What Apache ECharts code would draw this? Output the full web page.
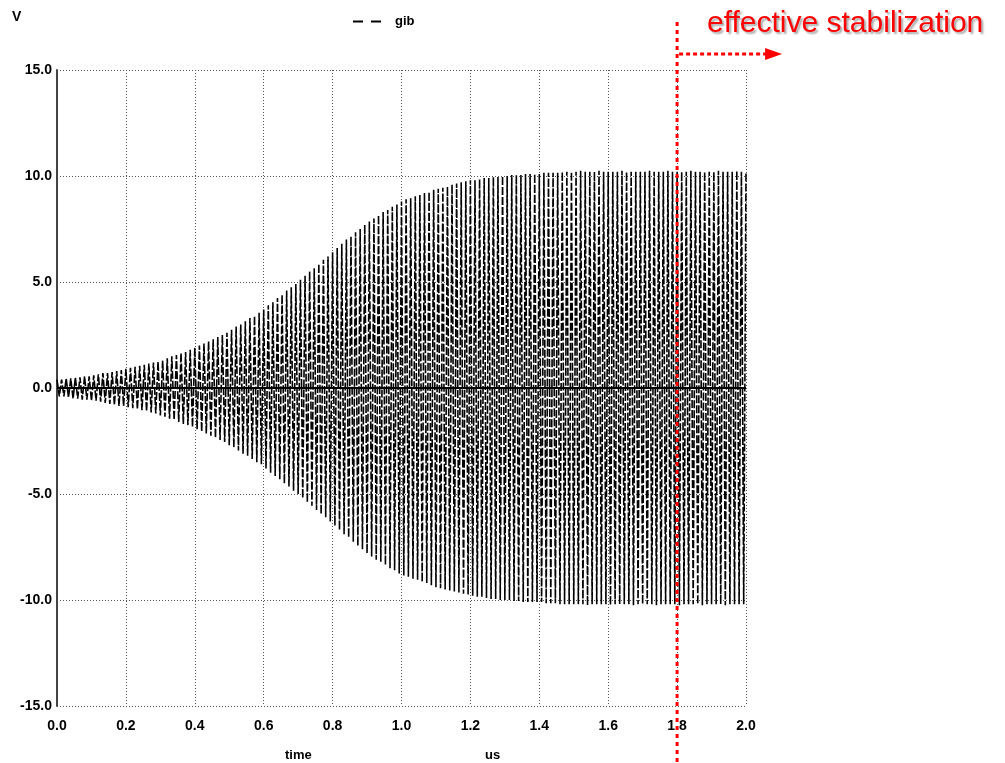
<!DOCTYPE html>
<html><head><meta charset="utf-8">
<script src="https://cdn.jsdelivr.net/npm/echarts@6/dist/echarts.min.js"></script>
<style>html,body{margin:0;padding:0;background:#fff}#c{width:1005px;height:763px}</style>
</head><body><div id="c"></div>
<script>
// ---- data ----
const seriesName = 'gib';
const xTicks = ['0.0','0.2','0.4','0.6','0.8','1.0','1.2','1.4','1.6','1.8','2.0'];
const yTicks = ['-15.0','-10.0','-5.0','0.0','5.0','10.0','15.0'];
const halfPeriod = 2 / 300;          // sample spacing of the peaks (us)
const peakValues = [
 0.4,-0.4,0.4,-0.4,0.45,-0.45,0.45,-0.5,0.5,-0.5,0.5,-0.55,0.55,-0.55,0.55,
 -0.6,0.6,-0.6,0.65,-0.65,0.7,-0.7,0.7,-0.75,0.75,-0.8,0.8,-0.85,0.85,-0.85,
 0.9,-0.9,0.95,-0.95,1.0,-1.0,1.05,-1.05,1.1,-1.1,1.15,-1.15,1.2,-1.2,1.25,
 -1.3,1.3,-1.35,1.4,-1.45,1.5,-1.5,1.55,-1.6,1.65,-1.7,1.7,-1.75,1.8,-1.85,
 1.9,-1.95,2.0,-2.05,2.1,-2.15,2.2,-2.25,2.3,-2.35,2.4,-2.45,2.5,-2.55,2.6,
 -2.7,2.75,-2.8,2.9,-2.95,3.0,-3.1,3.15,-3.2,3.3,-3.35,3.4,-3.5,3.55,-3.6,
 3.7,-3.8,3.9,-4.0,4.05,-4.15,4.25,-4.3,4.4,-4.5,4.6,-4.65,4.75,-4.85,4.9,
 -5.0,5.1,-5.2,5.3,-5.4,5.5,-5.55,5.65,-5.75,5.85,-5.95,6.05,-6.1,6.2,-6.3,
 6.4,-6.5,6.6,-6.7,6.8,-6.9,7.0,-7.05,7.15,-7.25,7.35,-7.45,7.5,-7.6,7.7,
 -7.8,7.85,-7.95,8.0,-8.1,8.15,-8.2,8.3,-8.35,8.4,-8.5,8.55,-8.6,8.65,-8.75,
 8.8,-8.85,8.9,-8.9,8.95,-9.0,9.05,-9.05,9.1,-9.15,9.2,-9.2,9.25,-9.3,9.35,
 -9.4,9.4,-9.45,9.45,-9.5,9.5,-9.55,9.6,-9.6,9.65,-9.65,9.7,-9.7,9.75,-9.75,
 9.8,-9.8,9.8,-9.85,9.85,-9.85,9.9,-9.9,9.9,-9.95,9.95,-9.95,9.95,-10.0,10.0,
 -10.0,10.0,-10.0,10.05,-10.05,10.05,-10.05,10.05,-10.1,10.1,-10.1,10.1,-10.1,10.1,-10.1,
 10.1,-10.1,10.15,-10.15,10.15,-10.15,10.15,-10.15,10.15,-10.2,10.2,-10.2,10.2,-10.2,10.2,
 -10.2,10.2,-10.2,10.25,-10.2,10.2,-10.25,10.2,-10.2,10.2,-10.2,10.25,-10.2,10.2,-10.2,
 10.2,-10.25,10.2,-10.2,10.2,-10.2,10.25,-10.2,10.2,-10.2,10.2,-10.25,10.2,-10.2,10.2,
 -10.2,10.2,-10.2,10.25,-10.2,10.2,-10.25,10.2,-10.2,10.2,-10.2,10.25,-10.2,10.2,-10.2,
 10.2,-10.25,10.2,-10.2,10.2,-10.2,10.25,-10.2,10.2,-10.2,10.2,-10.25,10.2,-10.2,10.2,
 -10.2,10.2,-10.2,10.25,-10.2,10.2,-10.25,10.2,-10.2,10.2,-10.2,10.25,-10.2,10.2,-10.2,
 10.2
];
const stabilizationTime = 1.8;
const annotationText = 'effective stabilization';
const xAxisTitle = 'time';
const xUnit = 'us';
const yAxisTitle = 'V';

// ---- chart ----
const chart = echarts.init(document.getElementById('c'), null, {renderer: 'canvas'});
const seriesData = peakValues.map((v, i) => [i * halfPeriod, v]);
const font = '"Liberation Sans", Arial, sans-serif';
const gridLine = {show: true, lineStyle: {color: '#555', type: [1, 2], width: 1}};

chart.setOption({
  animation: false,
  backgroundColor: '#fff',
  grid: {left: 57, right: 259, top: 70, bottom: 57, show: false},
  legend: {
    data: [{name: seriesName, icon: 'path://M0,0h10v2h-10z M18,0h10v2h-10z'}],
    left: 348, top: 10, itemWidth: 30, itemHeight: 2, itemGap: 6,
    textStyle: {fontFamily: font, fontWeight: 'bold', fontSize: 13, color: '#000', padding: [0, 0, 0, 8]}
  },
  xAxis: {
    type: 'value', min: 0, max: 2, interval: 0.2,
    axisLine: {show: false}, axisTick: {show: false},
    splitLine: gridLine,
    axisLabel: {
      formatter: v => xTicks[Math.round(v / 0.2)] ?? v.toFixed(1),
      fontFamily: font, fontWeight: 'bold', fontSize: 14, color: '#000', margin: 13
    }
  },
  yAxis: {
    type: 'value', min: -15, max: 15, interval: 5,
    axisLine: {show: true, onZero: false, lineStyle: {color: '#444', width: 2}},
    axisTick: {show: false},
    splitLine: gridLine,
    axisLabel: {
      formatter: v => yTicks[Math.round((v + 15) / 5)] ?? v.toFixed(1),
      fontFamily: font, fontWeight: 'bold', fontSize: 14, color: '#000', margin: 5
    }
  },
  series: [{
    name: seriesName, type: 'line', data: seriesData, showSymbol: false, symbol: 'none',
    lineStyle: {color: '#000', width: 1.6, type: [8, 2]},
    itemStyle: {color: '#000'},
    markLine: {
      silent: true, symbol: 'none', label: {show: false},
      lineStyle: {color: '#000', width: 2, type: 'solid'},
      data: [{yAxis: 0}]
    }
  }]
});

// annotations placed via the axis scales
const pStab = chart.convertToPixel({xAxisIndex: 0, yAxisIndex: 0}, [stabilizationTime, -15]);
const red = '#ff0000';
chart.setOption({
  graphic: [
    {type: 'text', left: 12, top: 10, style: {text: yAxisTitle, font: 'bold 14px ' + font, fill: '#000'}},
    {type: 'text', x: 285, y: 749, style: {text: xAxisTitle, font: 'bold 13px ' + font, fill: '#000'}},
    {type: 'text', x: 485, y: 749, style: {text: xUnit, font: 'bold 13px ' + font, fill: '#000'}},
    {type: 'line', shape: {x1: pStab[0], y1: 22, x2: pStab[0], y2: 763},
      style: {stroke: red, lineWidth: 3, lineDash: [4, 4]}, z: 100},
    {type: 'line', shape: {x1: pStab[0] + 2, y1: 54, x2: pStab[0] + 90, y2: 54},
      style: {stroke: red, lineWidth: 3, lineDash: [4, 3]}, z: 100},
    {type: 'polygon', shape: {points: [[pStab[0] + 88, 48], [pStab[0] + 105, 54], [pStab[0] + 88, 60]]},
      style: {fill: red}, z: 100},
    {type: 'text', x: 707, y: 9, z: 100,
      style: {text: annotationText, font: '30px ' + font, fill: red,
        textShadowColor: 'rgba(0,0,0,0.35)', textShadowBlur: 2, textShadowOffsetX: 2, textShadowOffsetY: 2}}
  ]
});
</script></body></html>
